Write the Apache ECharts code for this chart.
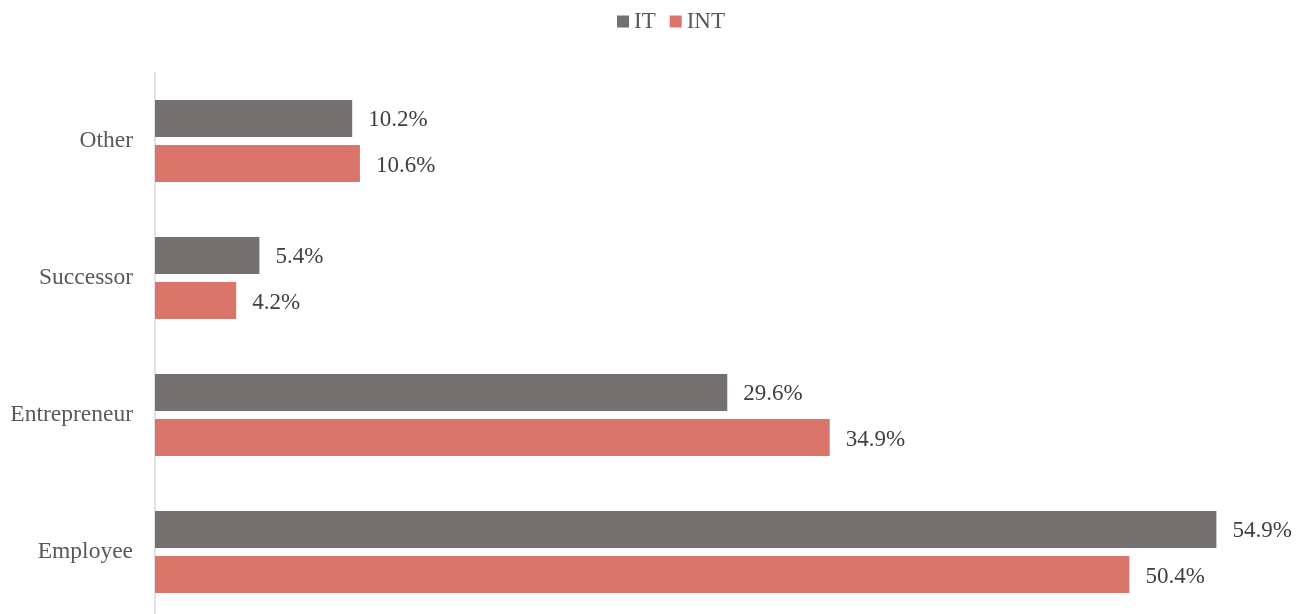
<!DOCTYPE html>
<html><head><meta charset="utf-8">
<script src="https://cdn.jsdelivr.net/npm/echarts@6/dist/echarts.min.js"></script>
<style>html,body{margin:0;padding:0;background:#fff;overflow:hidden}#c{width:1320px;height:621px}</style>
</head><body><div id="c"></div>
<script>
const categories = ['Employee', 'Entrepreneur', 'Successor', 'Other'];
const itValues = [54.9, 29.6, 5.4, 10.2];
const intValues = [50.4, 34.9, 4.2, 10.6];
const seriesNames = ['IT', 'INT'];

const chart = echarts.init(document.getElementById('c'));
const font = '"Liberation Serif", "Times New Roman", serif';
const lbl = {show: true, position: 'right', distance: 16, offset: [0, 2], fontFamily: font, fontSize: 23, color: '#404040',
  formatter: p => p.value.toFixed(1) + '%'};
chart.setOption({
  animation: false,
  legend: {top: 10, left: 617, padding: 0, itemWidth: 12, itemHeight: 12, itemGap: 14, icon: 'rect',
    textStyle: {fontFamily: font, fontSize: 23, color: '#595959'}, data: seriesNames},
  grid: {left: 155, top: 72.5, width: 1160, height: 548, containLabel: false},
  xAxis: {type: 'value', min: 0, max: 60, show: false},
  yAxis: {type: 'category', data: categories,
    axisLine: {show: true, lineStyle: {color: '#d9d9d9', width: 1.5}},
    axisTick: {show: false},
    axisLabel: {fontFamily: font, fontSize: 23.5, color: '#595959', margin: 22, padding: [3, 0, 0, 0]}},
  series: [
    {name: seriesNames[0], type: 'bar', data: itValues, itemStyle: {color: '#767171'}, label: lbl,
     barGap: '22%', barCategoryGap: '40%'},
    {name: seriesNames[1], type: 'bar', data: intValues, itemStyle: {color: '#D9756B'}, label: lbl,
     barGap: '22%', barCategoryGap: '40%'}
  ]
});
</script></body></html>
